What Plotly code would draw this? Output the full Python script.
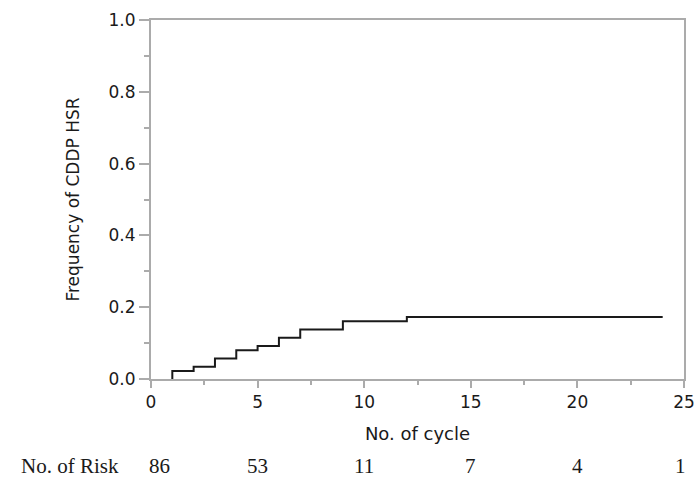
import plotly.graph_objects as go

# Step curve data (cumulative frequency of CDDP HSR by cycle)
cycle = [1, 1, 2, 3, 4, 5, 6, 7, 9, 12, 24]
freq = [0.0, 0.022, 0.034, 0.057, 0.080, 0.092, 0.115, 0.138, 0.161, 0.173, 0.173]

# Number at risk table
risk_cycles = [0, 5, 10, 15, 20, 25]
risk_counts = [86, 53, 11, 7, 4, 1]
risk_shift = [8, 0, 0, 0, 0, -4]

x_ticks = [0, 5, 10, 15, 20, 25]
y_ticks = [0.0, 0.2, 0.4, 0.6, 0.8, 1.0]

AX_COLOR = "#ababab"
TICK_FONT = dict(family="DejaVu Sans", size=17, color="#1a1a1a")

fig = go.Figure()
fig.add_trace(go.Scatter(
    x=cycle, y=freq, mode="lines", line_shape="hv",
    line=dict(color="#1a1a1a", width=2), showlegend=False,
))

fig.update_xaxes(
    range=[0, 25], tickvals=x_ticks, ticks="outside", ticklen=7, tickwidth=1.5,
    tickcolor=AX_COLOR, showline=True, linecolor=AX_COLOR, linewidth=2,
    mirror=True, showgrid=False, zeroline=False, tickfont=TICK_FONT, automargin=False,
    minor=dict(dtick=2.5, ticks="outside", ticklen=4, tickcolor=AX_COLOR, tickwidth=1.5),
    title=dict(text="No. of cycle", font=dict(family="DejaVu Sans", size=18, color="#1a1a1a"),
               standoff=16),
)
fig.update_yaxes(
    range=[0, 1.0], tickvals=y_ticks, tickformat=".1f", ticks="outside", ticklen=10,
    tickwidth=1.5, tickcolor=AX_COLOR, showline=True, linecolor=AX_COLOR, linewidth=2,
    mirror=True, showgrid=False, zeroline=False, tickfont=TICK_FONT, automargin=False,
    minor=dict(dtick=0.1, ticks="outside", ticklen=5, tickcolor=AX_COLOR, tickwidth=1.5),
    title=dict(text="Frequency of CDDP HSR", font=dict(family="DejaVu Sans", size=17, color="#1a1a1a"),
               standoff=25),
)

SERIF = dict(family="Liberation Serif", size=21, color="#1a1a1a")
fig.add_annotation(text="No. of Risk", xref="paper", yref="paper", x=-0.248, y=-0.243,
                   xanchor="left", yanchor="middle", showarrow=False, font=SERIF)
for xc, n, s in zip(risk_cycles, risk_counts, risk_shift):
    fig.add_annotation(text=str(n), x=xc, xref="x", yref="paper", y=-0.243,
                       xanchor="center", yanchor="middle", showarrow=False,
                       xshift=s, font=SERIF)

fig.update_layout(
    width=696, height=479,
    margin=dict(l=151, r=12, t=20, b=100),
    plot_bgcolor="white", paper_bgcolor="white",
)

fig.write_html("out.html", config={"displayModeBar": False},
               post_script="document.body.style.margin='0';")
